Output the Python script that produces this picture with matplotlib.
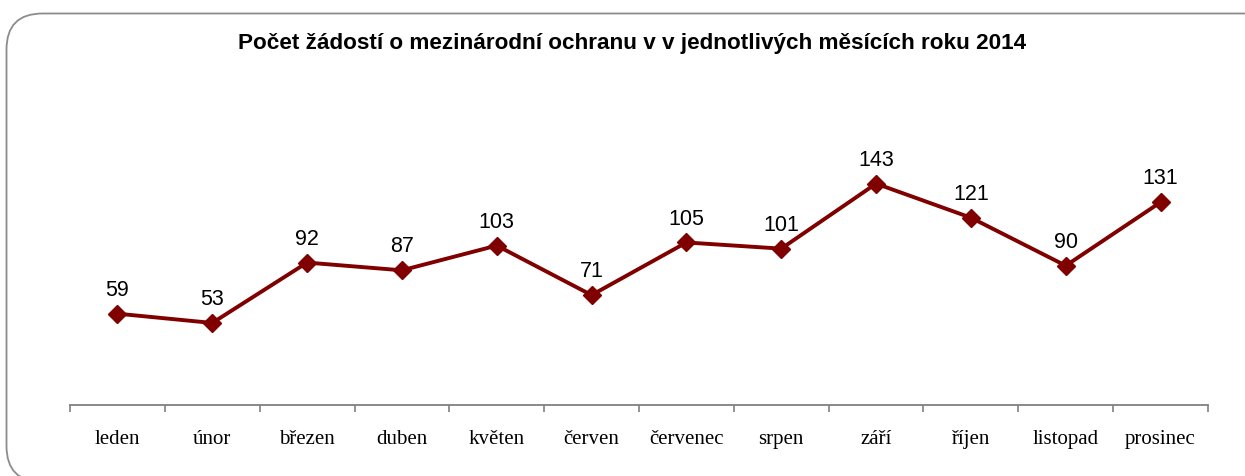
import matplotlib
matplotlib.use("Agg")
import matplotlib.pyplot as plt
from matplotlib.patches import FancyBboxPatch

months = ["leden", "únor", "březen", "duben", "květen", "červen",
          "červenec", "srpen", "září", "říjen", "listopad", "prosinec"]
counts = [59, 53, 92, 87, 103, 71, 105, 101, 143, 121, 90, 131]
title = "Počet žádostí o mezinárodní ochranu v v jednotlivých měsících roku 2014"

W, H = 1245, 477
fig = plt.figure(figsize=(W / 100, H / 100), dpi=100)
fig.patch.set_facecolor("white")

# rounded chart border (extends past right and bottom edges)
border = FancyBboxPatch((6.5, -6), 1290, 477 - 14.5 + 6,
                        boxstyle="round,pad=0,rounding_size=36",
                        transform=None, facecolor="none",
                        edgecolor="#8c8c8c", linewidth=1.3)
fig.patches.append(border)

ax = fig.add_axes([70 / W, 1 - 406 / H, (1208 - 70) / W, (406 - 96.4) / H])
x = list(range(len(months)))
color = "#800000"
ax.plot(x, counts, color=color, linewidth=2.8, marker="D", markersize=9.5,
        markerfacecolor=color, markeredgecolor=color, zorder=3)
for xi, v in zip(x, counts):
    ax.annotate(str(v), (xi, v), xytext=(0, 10), textcoords="offset points",
                ha="center", va="bottom", fontsize=15.5,
                family="Liberation Sans", color="black")

ax.set_xlim(-0.5, len(months) - 0.5)
ax.set_ylim(0, 200)
ax.set_xticks([i - 0.5 for i in range(len(months) + 1)])
ax.set_xticklabels([])
ax.set_xticks(x, minor=True)
ax.set_xticklabels(months, minor=True, family="Liberation Serif", fontsize=15)
ax.tick_params(axis="x", which="major", length=5, width=1.2, color="#808080",
               direction="out")
ax.tick_params(axis="x", which="minor", length=0, pad=17)
ax.yaxis.set_visible(False)
for s in ["top", "right", "left"]:
    ax.spines[s].set_visible(False)
ax.spines["bottom"].set_color("#808080")
ax.spines["bottom"].set_linewidth(1.3)
ax.set_facecolor("none")

fig.text(632 / W, 1 - 44 / H, title, ha="center", va="center",
         fontsize=16.2, fontweight="bold",
         family=["Liberation Sans", "DejaVu Sans"])

fig.savefig("out.png", dpi=100, facecolor="white")
